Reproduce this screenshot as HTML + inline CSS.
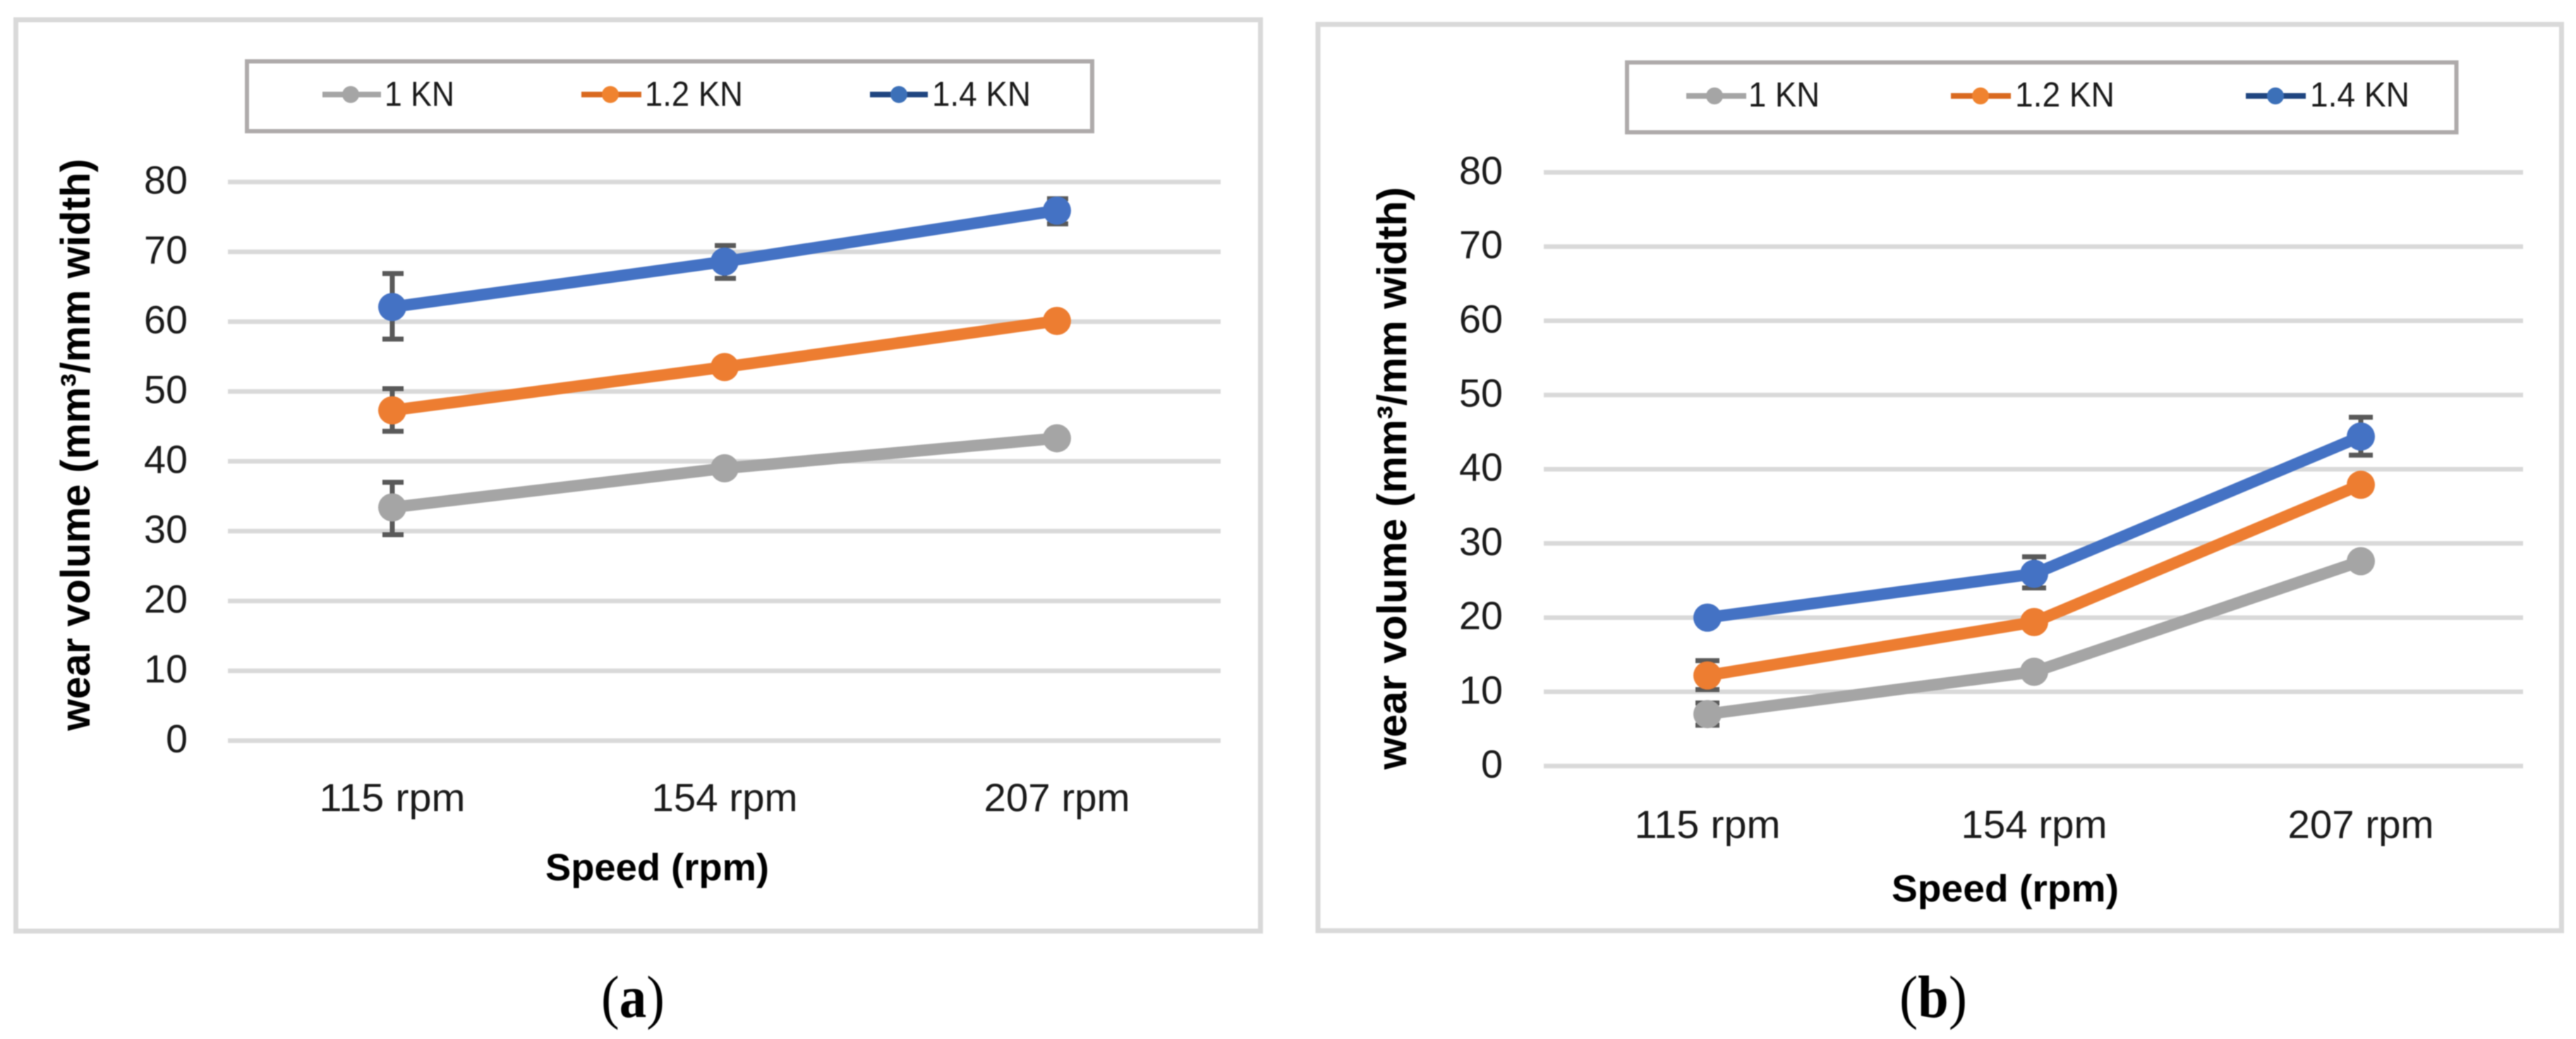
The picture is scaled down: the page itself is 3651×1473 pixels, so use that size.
<!DOCTYPE html>
<html lang="en">
<head>
<meta charset="utf-8">
<title>Wear volume versus speed</title>
<style>
html,body{margin:0;padding:0;background:#fff;width:3651px;height:1473px;overflow:hidden}
svg{display:block;position:absolute;left:0;top:0;filter:blur(0.8px)}
text{font-family:"Liberation Sans",sans-serif;fill:#1a1a1a}
.bold{font-weight:700;fill:#000}
.cap{font-family:"Liberation Serif",serif;fill:#000}
</style>
</head>
<body>
<svg id="figure" xmlns="http://www.w3.org/2000/svg" width="3651" height="1473" viewBox="0 0 3651 1473">
  <rect x="0" y="0" width="3651" height="1473" fill="#ffffff"/>

  <g id="chart-a">
    <rect x="22.5" y="28" width="1764" height="1292" fill="#fff" stroke="#d9d9d9" stroke-width="7"/>
    <rect x="350" y="87" width="1198" height="99" fill="#fff" stroke="#aeaaaa" stroke-width="6"/>
    <g>
      <line x1="457" x2="540" y1="134" y2="134" stroke="#a5a5a5" stroke-width="8"/>
      <circle cx="497" cy="134" r="12" fill="#a5a5a5"/>
      <text x="545" y="150" font-size="49" textLength="99" lengthAdjust="spacingAndGlyphs">1 KN</text>
    </g>
    <g>
      <line x1="824" x2="909" y1="134" y2="134" stroke="#d9691f" stroke-width="8"/>
      <circle cx="865" cy="134" r="12" fill="#f0832f"/>
      <text x="914" y="150" font-size="49" textLength="139" lengthAdjust="spacingAndGlyphs">1.2 KN</text>
    </g>
    <g>
      <line x1="1233" x2="1315" y1="134" y2="134" stroke="#1f4580" stroke-width="8"/>
      <circle cx="1274" cy="134" r="12" fill="#3c70b8"/>
      <text x="1321" y="150" font-size="49" textLength="140" lengthAdjust="spacingAndGlyphs">1.4 KN</text>
    </g>
    <text class="bold" transform="translate(127 1036) rotate(-90)" font-size="58" textLength="811" lengthAdjust="spacingAndGlyphs">wear volume (mm³/mm width)</text>
    <text class="bold" x="773" y="1248" font-size="54" textLength="317" lengthAdjust="spacingAndGlyphs">Speed (rpm)</text>
    <g id="plot-a"></g>
  </g>
  <text class="cap" x="852" y="1442" font-size="85" textLength="90" lengthAdjust="spacingAndGlyphs">(<tspan font-weight="700">a</tspan>)</text>

  <g id="chart-b">
    <rect x="1868" y="34.5" width="1762.5" height="1285" fill="#fff" stroke="#d9d9d9" stroke-width="7"/>
    <rect x="2306" y="88.5" width="1175.5" height="99" fill="#fff" stroke="#aeaaaa" stroke-width="6"/>
    <g>
      <line x1="2390" x2="2475" y1="136" y2="136" stroke="#a5a5a5" stroke-width="8"/>
      <circle cx="2430" cy="136" r="12" fill="#a5a5a5"/>
      <text x="2478" y="151" font-size="49" textLength="101" lengthAdjust="spacingAndGlyphs">1 KN</text>
    </g>
    <g>
      <line x1="2765" x2="2850" y1="136" y2="136" stroke="#d9691f" stroke-width="8"/>
      <circle cx="2807" cy="136" r="12" fill="#f0832f"/>
      <text x="2856" y="151" font-size="49" textLength="141" lengthAdjust="spacingAndGlyphs">1.2 KN</text>
    </g>
    <g>
      <line x1="3183" x2="3268" y1="136" y2="136" stroke="#1f4580" stroke-width="8"/>
      <circle cx="3225" cy="136" r="12" fill="#3c70b8"/>
      <text x="3274" y="151" font-size="49" textLength="141" lengthAdjust="spacingAndGlyphs">1.4 KN</text>
    </g>
    <text class="bold" transform="translate(1993 1091) rotate(-90)" font-size="58" textLength="826" lengthAdjust="spacingAndGlyphs">wear volume (mm³/mm width)</text>
    <text class="bold" x="2681" y="1278" font-size="54" textLength="322" lengthAdjust="spacingAndGlyphs">Speed (rpm)</text>
    <g id="plot-b"></g>
  </g>
  <text class="cap" x="2692" y="1442" font-size="85" textLength="96" lengthAdjust="spacingAndGlyphs">(<tspan font-weight="700">b</tspan>)</text>
</svg>

<script>
// Shared axis content
const categories = ['115 rpm', '154 rpm', '207 rpm'];
const tickValues = [0, 10, 20, 30, 40, 50, 60, 70, 80];

// Chart (a) data
const a1kN = [33.4, 39.0, 43.3];
const a12kN = [47.3, 53.5, 60.1];
const a14kN = [62.1, 68.6, 75.9];
const a1kNHigh = [37.0, null, null];
const a1kNLow = [29.5, null, null];
const a12kNHigh = [50.4, null, null];
const a12kNLow = [44.3, null, null];
const a14kNHigh = [66.9, 70.9, 77.6];
const a14kNLow = [57.5, 66.2, 74.0];

// Chart (b) data
const b1kN = [7.0, 12.7, 27.6];
const b12kN = [12.2, 19.4, 37.9];
const b14kN = [20.0, 25.9, 44.4];
const b1kNHigh = [8.5, null, null];
const b1kNLow = [5.5, null, null];
const b12kNHigh = [14.2, null, null];
const b12kNLow = [10.3, null, null];
const b14kNHigh = [null, 28.2, 47.0];
const b14kNLow = [null, 24.0, 41.9];

const SVG_NS = 'http://www.w3.org/2000/svg';

function makeEl(tag, parent) {
  const el = document.createElementNS(SVG_NS, tag);
  parent.appendChild(el);
  return el;
}

function drawChart(prefix, plot, layout, series) {
  const xAt = function (i) { return layout.xFirst + i * layout.xStep; };
  const yAt = function (v) { return layout.yZero - v * layout.yPerUnit; };

  tickValues.forEach(function (t) {
    const grid = makeEl('line', plot);
    
    
    grid.setAttribute('x1', layout.gridLeft);
    grid.setAttribute('x2', layout.gridRight);
    grid.setAttribute('y1', yAt(t));
    grid.setAttribute('y2', yAt(t));
    grid.setAttribute('stroke', '#d9d9d9');
    grid.setAttribute('stroke-width', 6.5);

    const tick = makeEl('text', plot);
    
    
    tick.setAttribute('x', layout.tickRight);
    tick.setAttribute('y', yAt(t) + 16.5);
    tick.setAttribute('text-anchor', 'end');
    tick.setAttribute('font-size', 56);
    tick.setAttribute('textLength', String(t).length * 31);
    tick.setAttribute('lengthAdjust', 'spacingAndGlyphs');
    tick.textContent = String(t);
  });

  categories.forEach(function (c, i) {
    const label = makeEl('text', plot);
    
    
    label.setAttribute('x', xAt(i));
    label.setAttribute('y', layout.catBaseline);
    label.setAttribute('text-anchor', 'middle');
    label.setAttribute('font-size', 56);
    label.setAttribute('textLength', 207);
    label.setAttribute('lengthAdjust', 'spacingAndGlyphs');
    label.textContent = c;
  });

  series.forEach(function (s) {
    const group = makeEl('g', plot);
    
    

    s.values.forEach(function (v, i) {
      if (s.high[i] === null) return;
      const bar = makeEl('path', group);
      
      
      const x = xAt(i);
      const top = yAt(s.high[i]);
      const bot = yAt(s.low[i]);
      const capL = x - layout.capLeft;
      const capR = x + layout.capRight;
      bar.setAttribute('d', 'M' + capL + ' ' + top + 'H' + capR + 'M' + x + ' ' + top + 'V' + bot + 'M' + capL + ' ' + bot + 'H' + capR);
      bar.setAttribute('fill', 'none');
      bar.setAttribute('stroke', '#595959');
      bar.setAttribute('stroke-width', 7);
    });

    const line = makeEl('polyline', group);
    
    
    line.setAttribute('points', s.values.map(function (v, i) { return xAt(i) + ',' + yAt(v); }).join(' '));
    line.setAttribute('fill', 'none');
    line.setAttribute('stroke', s.color);
    line.setAttribute('stroke-width', 16.5);
    line.setAttribute('stroke-linejoin', 'round');

    s.values.forEach(function (v, i) {
      const dot = makeEl('circle', group);
      
      
      dot.setAttribute('cx', xAt(i));
      dot.setAttribute('cy', yAt(v));
      dot.setAttribute('r', 20);
      dot.setAttribute('fill', s.color);
    });
  });
}

drawChart('chart-a', document.getElementById('plot-a'),
  { xFirst: 556, xStep: 471, yZero: 1050, yPerUnit: 9.9, gridLeft: 323, gridRight: 1730, tickRight: 266, catBaseline: 1150, capLeft: 14, capRight: 16 },
  [
    { name: '1kn', color: '#a5a5a5', values: a1kN, high: a1kNHigh, low: a1kNLow },
    { name: '1-2kn', color: '#ed7d31', values: a12kN, high: a12kNHigh, low: a12kNLow },
    { name: '1-4kn', color: '#4472c4', values: a14kN, high: a14kNHigh, low: a14kNLow }
  ]);

drawChart('chart-b', document.getElementById('plot-b'),
  { xFirst: 2420, xStep: 463, yZero: 1086, yPerUnit: 10.52, gridLeft: 2188, gridRight: 3576, tickRight: 2130, catBaseline: 1188, capLeft: 17, capRight: 17 },
  [
    { name: '1kn', color: '#a5a5a5', values: b1kN, high: b1kNHigh, low: b1kNLow },
    { name: '1-2kn', color: '#ed7d31', values: b12kN, high: b12kNHigh, low: b12kNLow },
    { name: '1-4kn', color: '#4472c4', values: b14kN, high: b14kNHigh, low: b14kNLow }
  ]);
</script>
</body>
</html>
